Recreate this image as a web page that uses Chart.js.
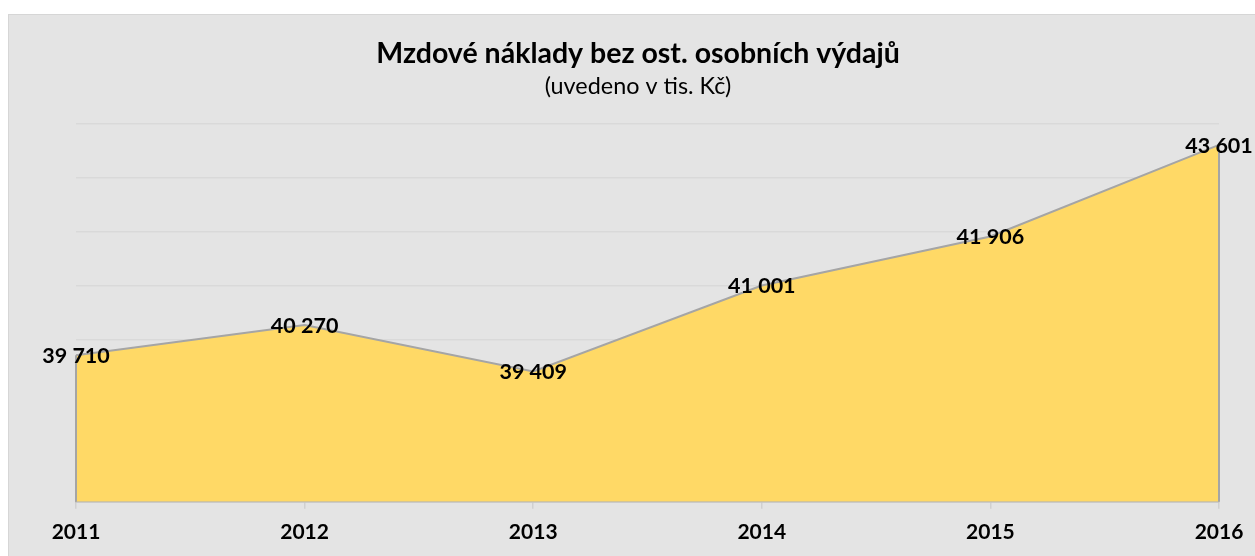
<!DOCTYPE html>
<html>
<head>
<meta charset="utf-8">
<script src="https://cdn.jsdelivr.net/npm/chart.js@4"></script>
<style>
html,body{margin:0;padding:0;background:#ffffff;overflow:hidden;}
#box{position:absolute;left:8px;top:14px;width:1260px;height:560px;background:#e4e4e4;border:1px solid #d6d6d6;box-sizing:border-box;}
#wrap{position:absolute;left:0;top:0;width:1247px;height:542px;}
</style>
</head>
<body>
<div id="box"><div id="wrap"><canvas id="c" width="1247" height="542"></canvas></div></div>
<script>
const categories = ['2011','2012','2013','2014','2015','2016'];
const values = [39710, 40270, 39409, 41001, 41906, 43601];
const valueLabels = ['39 710','40 270','39 409','41 001','41 906','43 601'];
const yMin = 37000, yMax = 44000, yStep = 1000;

const FONT = 'Lato, "Open Sans", sans-serif';

const edgePlugin = {
  id: 'edges',
  afterDatasetsDraw(chart) {
    const meta = chart.getDatasetMeta(0);
    const ctx = chart.ctx;
    const bottom = chart.scales.y.getPixelForValue(yMin);
    ctx.save();
    ctx.strokeStyle = '#a5a5a5';
    ctx.lineWidth = 2;
    [meta.data[0], meta.data[meta.data.length - 1]].forEach(p => {
      ctx.beginPath();
      ctx.moveTo(p.x, p.y);
      ctx.lineTo(p.x, bottom);
      ctx.stroke();
    });
    ctx.restore();
  },
  afterDraw(chart) {
    const meta = chart.getDatasetMeta(0);
    const ctx = chart.ctx;
    ctx.save();
    ctx.font = 'bold 21.5px ' + FONT;
    ctx.fillStyle = '#000000';
    ctx.textAlign = 'center';
    ctx.textBaseline = 'middle';
    meta.data.forEach((p, i) => {
      ctx.fillText(valueLabels[i], p.x, p.y + 1);
    });
    ctx.restore();
  }
};

new Chart(document.getElementById('c'), {
  type: 'line',
  data: {
    labels: categories,
    datasets: [{
      data: values,
      borderColor: '#a5a5a5',
      borderWidth: 2,
      backgroundColor: '#ffd966',
      fill: 'start',
      pointRadius: 0,
      tension: 0
    }]
  },
  options: {
    responsive: false,
    animation: false,
    layout: { padding: { left: 48, right: 37, top: 0, bottom: 1 } },
    plugins: {
      legend: { display: false },
      tooltip: { enabled: false },
      title: {
        display: true,
        text: 'Mzdové náklady bez ost. osobních výdajů',
        color: '#000000',
        font: { family: FONT, size: 28.5, weight: 'bold', lineHeight: 1.2 },
        padding: { top: 22, bottom: 0 }
      },
      subtitle: {
        display: true,
        text: '(uvedeno v tis. Kč)',
        color: '#000000',
        font: { family: FONT, size: 23.4, weight: 'normal', lineHeight: 1.2 },
        padding: { top: 1, bottom: 23 }
      }
    },
    scales: {
      x: {
        offset: false,
        grid: { drawOnChartArea: false, drawTicks: true, tickLength: 7, color: '#d0d0d0', lineWidth: 1.5 },
        border: { display: true, color: '#b5b5b5', width: 1.5 },
        ticks: { color: '#000000', font: { family: FONT, size: 21, weight: 'bold' }, padding: 11, maxRotation: 0 }
      },
      y: {
        min: yMin, max: yMax,
        grid: { color: '#d9d9d9', lineWidth: 1.5, drawTicks: false },
        border: { display: false },
        ticks: { display: false, stepSize: yStep },
        afterFit(scale) { scale.width = 19; }
      }
    }
  },
  plugins: [edgePlugin]
});
</script>
</body>
</html>
